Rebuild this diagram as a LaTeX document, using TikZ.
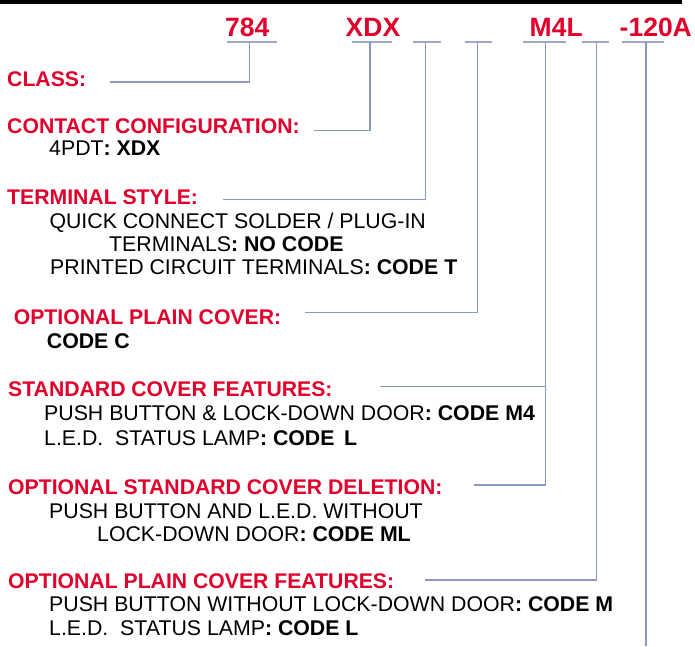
\documentclass[tikz,border=0pt]{standalone}
\usepackage{fontspec}
\setmainfont{Liberation Sans}
\definecolor{codered}{RGB}{224,0,43}
\definecolor{linkblue}{RGB}{140,152,196}
\begin{document}
\begin{tikzpicture}[x=1pt,y=-1pt,
  num/.style={anchor=base west,inner sep=0pt,text=codered,font=\fontsize{26.5}{28}\selectfont\bfseries},
  head/.style={anchor=base west,inner sep=0pt,text=codered,font=\fontsize{21.2}{23}\selectfont\bfseries},
  txt/.style={anchor=base west,inner sep=0pt,text=black,font=\fontsize{21.3}{23}\selectfont},
  conn/.style={draw=linkblue,line width=1.3pt},
  uline/.style={draw=linkblue!85,line width=2pt}]
\useasboundingbox (0,0) rectangle (695,646);
\fill[black] (0,0) rectangle (682,4.2);
% code numbers
\node[num] (n784) at (225,36.5) {784};
\node[num] (nxdx) at (345.5,36.5) {XDX};
\node[num] (nm4l) at (529.5,36.5) {M4L};
\node[num] (n120) at (619.5,36.5) {-120A};
% underline tops of stems
\coordinate (s784) at (249.7,41.7);
\coordinate (sxdx) at (370,41.7);
\coordinate (sb1) at (425.5,41.7);
\coordinate (sb2) at (477.7,41.7);
\coordinate (sm4l) at (545.7,41.7);
\coordinate (sb3) at (596.7,41.7);
\coordinate (s120) at (646,41.7);
\draw[uline] (227,41.7) -- (276.7,41.7);
\draw[uline] (351.7,41.7) -- (391.7,41.7);
\draw[uline] (413.3,41.7) -- (440.7,41.7);
\draw[uline] (465,41.7) -- (491.7,41.7);
\draw[uline] (523,41.7) -- (565.7,41.7);
\draw[uline] (582,41.7) -- (609,41.7);
\draw[uline] (621.7,41.7) -- (664.3,41.7);
% headings and texts
\node[head] (hclass) at (7,86.7) {CLASS:};
\node[head] (hcontact) at (7,133) {CONTACT CONFIGURATION:};
\node[txt] (t4pdt) at (49,155) {4PDT\textbf{: XDX}};
\node[head] (hterm) at (7,204) {TERMINAL STYLE:};
\node[txt] (tquick) at (49.3,228.7) {QUICK CONNECT SOLDER / PLUG-IN};
\node[txt] (tterms) at (109,251.7) {TERMINALS\textbf{: NO CODE}};
\node[txt] (tprinted) at (50,274) {PRINTED CIRCUIT TERMINALS\textbf{: CODE T}};
\node[head] (hplain) at (13.6,324) {OPTIONAL PLAIN COVER:};
\node[txt] (tcodec) at (46.7,348) {\textbf{CODE C}};
\node[head] (hstd) at (8,396.7) {STANDARD COVER FEATURES:};
\node[txt] (tpush1) at (44,420) {PUSH BUTTON \& LOCK-DOWN DOOR\textbf{: CODE M4}};
\node[txt] (tled1) at (44,445) {L.E.D.\ \ STATUS LAMP\textbf{: CODE\ \,L}};
\node[head] (hdel) at (8,494.3) {OPTIONAL STANDARD COVER DELETION:};
\node[txt] (tpush2) at (49,518) {PUSH BUTTON AND L.E.D. WITHOUT};
\node[txt] (tlock) at (97,541.7) {LOCK-DOWN DOOR\textbf{: CODE ML}};
\node[head] (hpcf) at (8,588) {OPTIONAL PLAIN COVER FEATURES:};
\node[txt] (tpush3) at (49,611.7) {PUSH BUTTON WITHOUT LOCK-DOWN DOOR\textbf{: CODE M}};
\node[txt] (tled2) at (49,635) {L.E.D.\ \ STATUS LAMP\textbf{: CODE L}};
% connector ends
\coordinate (eclass) at (110,82);
\coordinate (econtact) at (314,130.7);
\coordinate (eterm) at (223.3,199.3);
\coordinate (eplain) at (305,312.7);
\coordinate (estd) at (380,386.7);
\coordinate (edel) at (474,485);
\coordinate (epcf) at (424.5,580);
\coordinate (e120) at (646,646);
\draw[conn] (s784) |- (eclass);
\draw[conn] (sxdx) |- (econtact);
\draw[conn] (sb1) |- (eterm);
\draw[conn] (sb2) |- (eplain);
\draw[conn] (sm4l) |- (edel);
\draw[conn] (sm4l |- estd) -- (estd);
\draw[conn] (sb3) |- (epcf);
\draw[conn] (s120) -- (e120);
\end{tikzpicture}
\end{document}
